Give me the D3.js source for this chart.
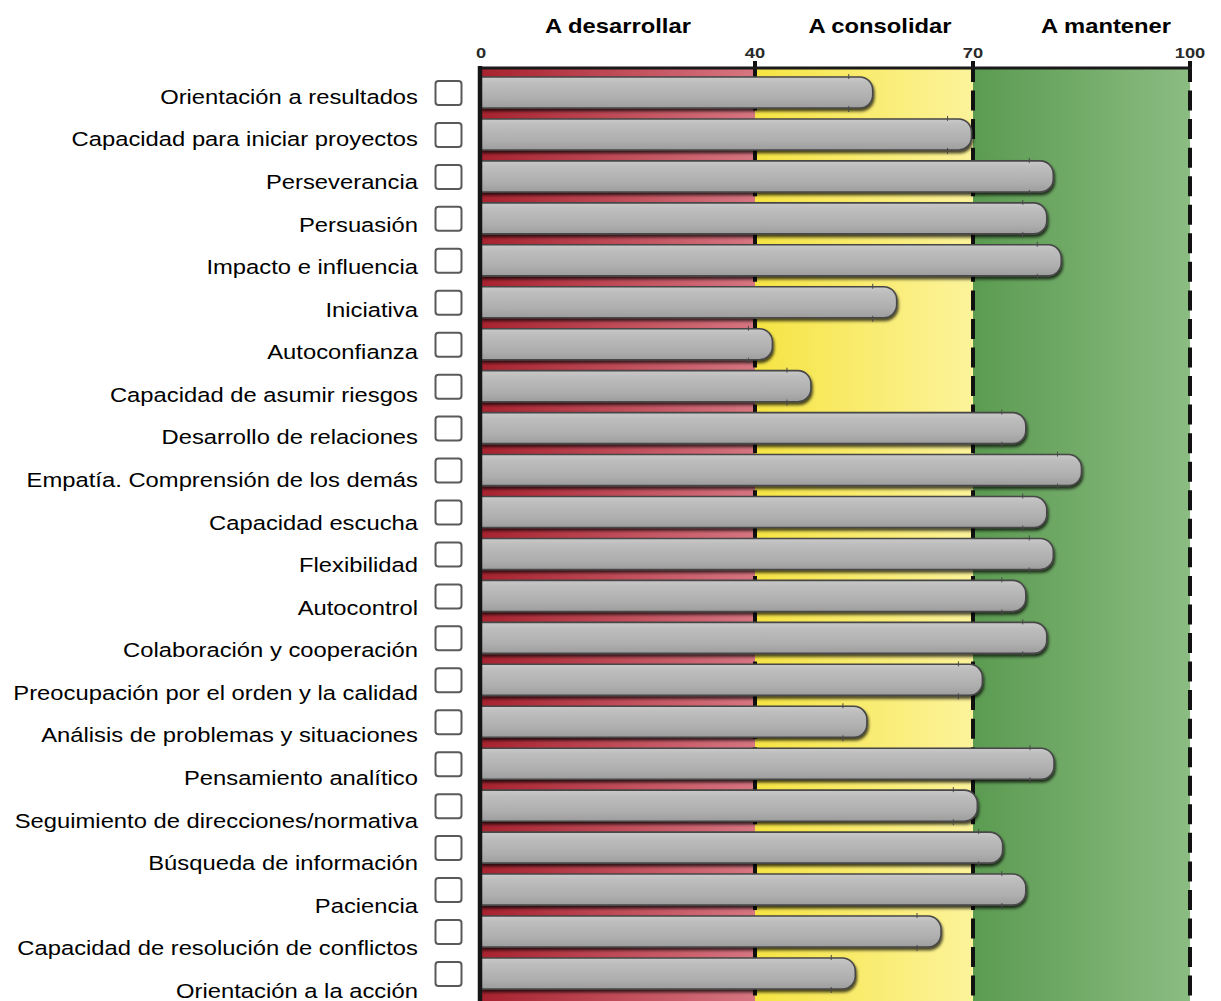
<!DOCTYPE html>
<html>
<head>
<meta charset="utf-8">
<script src="https://cdn.jsdelivr.net/npm/d3@7"></script>
<style>
  html, body { margin: 0; padding: 0; background: #fff; }
  svg { display: block; }
</style>
</head>
<body>
<svg id="chart" width="1221" height="1001"></svg>
<script>
// ---- data ----
const competencias = [
  "Orientación a resultados",
  "Capacidad para iniciar proyectos",
  "Perseverancia",
  "Persuasión",
  "Impacto e influencia",
  "Iniciativa",
  "Autoconfianza",
  "Capacidad de asumir riesgos",
  "Desarrollo de relaciones",
  "Empatía. Comprensión de los demás",
  "Capacidad escucha",
  "Flexibilidad",
  "Autocontrol",
  "Colaboración y cooperación",
  "Preocupación por el orden y la calidad",
  "Análisis de problemas y situaciones",
  "Pensamiento analítico",
  "Seguimiento de direcciones/normativa",
  "Búsqueda de información",
  "Paciencia",
  "Capacidad de resolución de conflictos",
  "Orientación a la acción"
];
const puntuaciones = [
  56.2, 69.8, 81.1, 80.2, 82.2, 59.5, 42.4, 47.7, 77.3, 85.0, 80.2,
  81.1, 77.3, 80.2, 71.3, 55.4, 81.2, 70.6, 74.1, 77.3, 65.6, 53.8
];
const zonas = ["A desarrollar", "A consolidar", "A mantener"];
const limitesZona = [0, 40, 70, 100];
const marcasEje = ["0", "40", "70", "100"];

// ---- layout ----
const svg = d3.select("#chart");
const FONT = "'Liberation Sans', Arial, Helvetica, sans-serif";
const STRETCH = 1.22;          // text is drawn slightly widened
const axisY = 68;
const plotBottom = 1001;

// the three zones share the axis unevenly: 0–40 | 40–70 | 70–100
const x = d3.scaleLinear()
  .domain(limitesZona)
  .range([481, 755, 973, 1190]);

const yBar = d3.scaleBand()
  .domain(competencias)
  .range([77, 989])
  .paddingInner(0.26)
  .paddingOuter(0);

const yLabel = d3.scalePoint()
  .domain(competencias)
  .range([97, 991]);

// ---- defs: gradients and shadow ----
const defs = svg.append("defs");
function hGrad(id, c0, c1) {
  const g = defs.append("linearGradient").attr("id", id)
    .attr("x1", 0).attr("x2", 1).attr("y1", 0).attr("y2", 0);
  g.append("stop").attr("offset", 0).attr("stop-color", c0);
  g.append("stop").attr("offset", 1).attr("stop-color", c1);
}
hGrad("zona0", "#a8222f", "#d77682");
hGrad("zona1", "#f6e443", "#fcf39b");
hGrad("zona2", "#5b9b51", "#8bbc82");

const barGrad = defs.append("linearGradient").attr("id", "barra")
  .attr("x1", 0).attr("x2", 0).attr("y1", 0).attr("y2", 1);
[[0, "#c9c9c9"], [0.2, "#bdbdbd"], [0.7, "#aeaeae"], [1, "#9d9d9d"]]
  .forEach(([o, c]) => barGrad.append("stop").attr("offset", o).attr("stop-color", c));

const shadow = defs.append("filter").attr("id", "sombra")
  .attr("x", "-5%").attr("y", "-30%").attr("width", "110%").attr("height", "170%");
shadow.append("feDropShadow")
  .attr("dx", 1).attr("dy", 2.5).attr("stdDeviation", 1.4)
  .attr("flood-color", "#000").attr("flood-opacity", 0.75);

// ---- zone backgrounds ----
svg.append("g").selectAll("rect")
  .data(d3.range(zonas.length))
  .join("rect")
  .attr("x", i => x(limitesZona[i]))
  .attr("y", axisY)
  .attr("width", i => x(limitesZona[i + 1]) - x(limitesZona[i]))
  .attr("height", plotBottom - axisY)
  .attr("fill", i => `url(#zona${i})`);

// dashed zone limits (behind the bars)
svg.append("g").selectAll("line")
  .data(limitesZona.slice(1))
  .join("line")
  .attr("x1", d => x(d)).attr("x2", d => x(d))
  .attr("y1", axisY - 6).attr("y2", plotBottom)
  .attr("stroke", "#111")
  .attr("stroke-width", 4)
  .attr("stroke-dasharray", "20,8.55");

// small solid ticks above the axis line
svg.append("g").selectAll("line")
  .data(limitesZona.slice(1))
  .join("line")
  .attr("x1", d => x(d)).attr("x2", d => x(d))
  .attr("y1", axisY - 7).attr("y2", axisY + 2)
  .attr("stroke", "#111")
  .attr("stroke-width", 4);

// ---- bars ----
const r = 13;
function barPath(v, name) {
  const x0 = x(0), x1 = x(v), y0 = yBar(name), h = yBar.bandwidth();
  return `M${x0},${y0}H${x1 - r}A${r},${r} 0 0 1 ${x1},${y0 + r}` +
         `V${y0 + h - r}A${r},${r} 0 0 1 ${x1 - r},${y0 + h}H${x0}Z`;
}
const bars = svg.append("g").selectAll("g")
  .data(competencias.map((c, i) => ({ c, v: puntuaciones[i] })))
  .join("g");

bars.append("path")
  .attr("d", d => barPath(d.v, d.c))
  .attr("fill", "url(#barra)")
  .attr("stroke", "#474747")
  .attr("stroke-width", 1.6)
  .attr("filter", "url(#sombra)");

// thin notches near the rounded end of each bar
bars.append("line")
  .attr("x1", d => x(d.v) - 24).attr("x2", d => x(d.v) - 24)
  .attr("y1", d => yBar(d.c) - 3).attr("y2", d => yBar(d.c) + 2)
  .attr("stroke", "#4a4a4a").attr("stroke-width", 1);
bars.append("line")
  .attr("x1", d => x(d.v) - 24).attr("x2", d => x(d.v) - 24)
  .attr("y1", d => yBar(d.c) + yBar.bandwidth() - 2)
  .attr("y2", d => yBar(d.c) + yBar.bandwidth() + 4)
  .attr("stroke", "#4a4a4a").attr("stroke-width", 1);

// ---- axis lines ----
svg.append("line")
  .attr("x1", x(0) - 2).attr("x2", x(100) + 2)
  .attr("y1", axisY).attr("y2", axisY)
  .attr("stroke", "#1a1a1a").attr("stroke-width", 3);
svg.append("line")
  .attr("x1", x(0) - 1).attr("x2", x(0) - 1)
  .attr("y1", axisY - 2).attr("y2", plotBottom)
  .attr("stroke", "#151515").attr("stroke-width", 4.5);

// tick labels
svg.append("g").selectAll("text")
  .data(marcasEje)
  .join("text")
  .attr("transform", (d, i) => `translate(${x(limitesZona[i])},58) scale(${STRETCH},1)`)
  .attr("text-anchor", "middle")
  .attr("font-family", FONT)
  .attr("font-weight", "bold")
  .attr("font-size", 15)
  .attr("fill", "#2a2a2a")
  .text(d => d);

// zone headings
const headingAt = [20, 57.2, 88.4];
svg.append("g").selectAll("text")
  .data(zonas)
  .join("text")
  .attr("transform", (d, i) => `translate(${x(headingAt[i])},33) scale(${STRETCH},1)`)
  .attr("text-anchor", "middle")
  .attr("font-family", FONT)
  .attr("font-weight", "bold")
  .attr("font-size", 19.5)
  .attr("fill", "#000")
  .text(d => d);

// ---- row labels and check boxes ----
svg.append("g").selectAll("rect")
  .data(competencias)
  .join("rect")
  .attr("x", 435.5)
  .attr("y", d => yBar(d) + 4)
  .attr("width", 26)
  .attr("height", 24)
  .attr("rx", 3)
  .attr("fill", "#fff")
  .attr("stroke", "#5a5a5a")
  .attr("stroke-width", 2);

svg.append("g").selectAll("text")
  .data(competencias)
  .join("text")
  .attr("transform", d => `translate(418,${yLabel(d)}) scale(${STRETCH},1)`)
  .attr("dy", "0.35em")
  .attr("text-anchor", "end")
  .attr("font-family", FONT)
  .attr("font-size", 19.5)
  .attr("fill", "#000")
  .text(d => d);
</script>
</body>
</html>
